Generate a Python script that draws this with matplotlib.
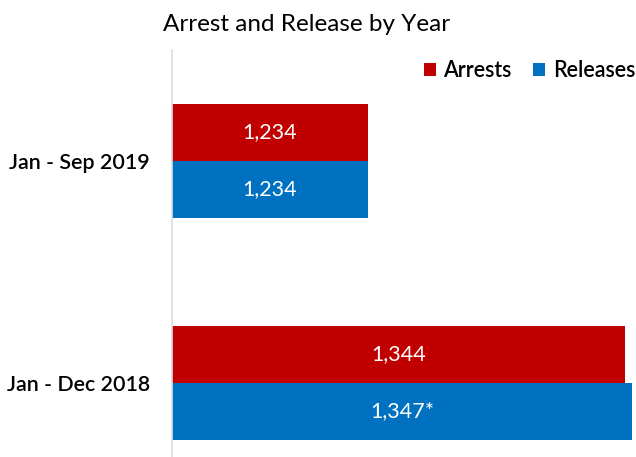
import matplotlib.pyplot as plt
import numpy as np

plt.rcParams['font.family'] = ['Lato', 'DejaVu Sans']

categories = ["Jan - Dec 2018", "Jan - Sep 2019"]
arrests = [1344, 1234]
releases = [1347, 1234]
arrest_labels = ["1,344", "1,234"]
release_labels = ["1,347*", "1,234"]

red = "#C00000"
blue = "#0070C0"

fig = plt.figure(figsize=(6.36, 4.57), dpi=100)
ax = fig.add_axes([172 / 636, -0.081, 467 / 636, 0.9716])

y = np.arange(len(categories))
h = 0.257
xmin = 1150

ax.barh(y + h / 2, np.array(arrests) - xmin, height=h, left=xmin, color=red, label="Arrests")
ax.barh(y - h / 2, np.array(releases) - xmin, height=h, left=xmin, color=blue, label="Releases")

for i in range(len(categories)):
    ax.text((xmin + arrests[i]) / 2, y[i] + h / 2, arrest_labels[i], color="white",
            ha="center", va="center", fontsize=15.5)
    ax.text((xmin + releases[i]) / 2, y[i] - h / 2, release_labels[i], color="white",
            ha="center", va="center", fontsize=15.5)

ax.set_xlim(xmin, 1350)
ax.set_ylim(-0.5, 1.5)
ax.set_yticks(y)
ax.set_yticklabels(categories, fontsize=15.4, fontweight="semibold")
ax.tick_params(axis="y", length=0, pad=16)
ax.set_xticks([])
for s in ["top", "right", "bottom"]:
    ax.spines[s].set_visible(False)
ax.spines["left"].set_color("#DDDDDD")
ax.spines["left"].set_linewidth(1.2)

fig.text(0.482, 0.947, "Arrest and Release by Year", ha="center", va="center", fontsize=17.5)

fig.legend(loc="center right", bbox_to_anchor=(1.029, 0.845), ncol=2, frameon=False,
           handlelength=0.55, handleheight=0.55, handletextpad=0.35, columnspacing=1.0,
           prop={"size": 15.5, "weight": "semibold"})

fig.savefig("out.png", dpi=100)
